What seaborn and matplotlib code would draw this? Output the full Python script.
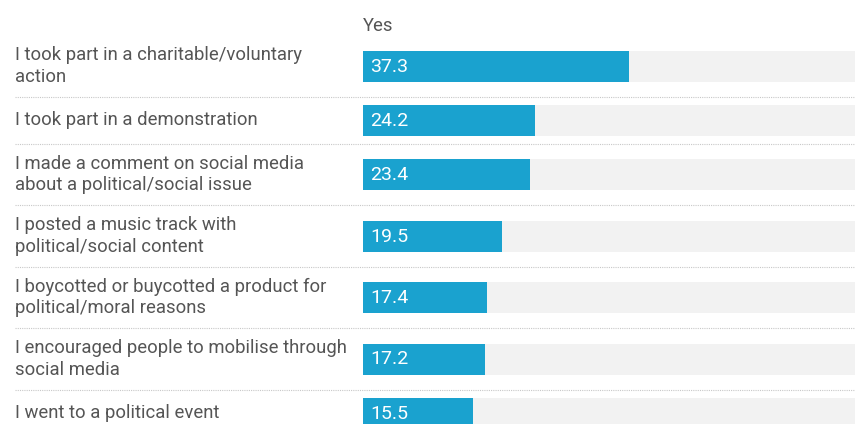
import numpy as np
import pandas as pd
import matplotlib
matplotlib.use("Agg")
import matplotlib.pyplot as plt
import seaborn as sns
from matplotlib.transforms import blended_transform_factory

# Survey answers: share of respondents answering "Yes"
categories = [
    "I took part in a charitable/voluntary\naction",
    "I took part in a demonstration",
    "I made a comment on social media\nabout a political/social issue",
    "I posted a music track with\npolitical/social content",
    "I boycotted or buycotted a product for\npolitical/moral reasons",
    "I encouraged people to mobilise through\nsocial media",
    "I went to a political event",
]
yes_values = [37.3, 24.2, 23.4, 19.5, 17.4, 17.2, 15.5]
column_header = "Yes"
scale_max = 100

W, H, DPI = 855, 424, 100
BAR_LEFT = 363          # px where the bar column starts
PX_PER_UNIT = 7.12      # horizontal scale of the bars

sns.set_theme(style="white")
plt.rcParams["font.family"] = ["Roboto", "DejaVu Sans"]

TEXT = "#555555"
BLUE = "#1aa2cf"
TRACK = "#f2f2f2"
RULE = "#c8c8c8"

# Row heights follow the number of lines in each label
line_counts = [c.count("\n") + 1 for c in categories]
row_h = np.array([61.5 if n > 1 else 47.0 for n in line_counts])
top = 35.25
edges = top + np.concatenate([[0.0], np.cumsum(row_h)])
centers = (edges[:-1] + edges[1:]) / 2

df = pd.DataFrame({
    "label": categories,
    "value": yes_values,
    "pos": centers,
    "full": [scale_max] * len(categories),
})

fig = plt.figure(figsize=(W / DPI, H / DPI), dpi=DPI)
fig.patch.set_facecolor("white")
ax = fig.add_axes([BAR_LEFT / W, 0, 1 - BAR_LEFT / W, 1])

bar_px = 31.0
width = bar_px / np.min(np.diff(centers))

sns.barplot(data=df, x="full", y="pos", orient="h", native_scale=True,
            color=TRACK, saturation=1, width=width, errorbar=None,
            linewidth=0, ax=ax)
sns.barplot(data=df, x="value", y="pos", orient="h", native_scale=True,
            color=BLUE, saturation=1, width=width, errorbar=None,
            linewidth=0, ax=ax)

ax.set_xlim(0, (W - BAR_LEFT) / PX_PER_UNIT)
ax.set_ylim(H, 0)
ax.axis("off")

trans = blended_transform_factory(fig.transFigure, ax.transData)

# Dotted separators between rows
for y in edges[1:-1]:
    ax.plot([15 / W, 1], [y, y], transform=trans, color=RULE,
            linestyle=(0, (1, 1)), linewidth=0.8, clip_on=False)

# Row labels
for lab, c in zip(df["label"], df["pos"]):
    ax.text(15 / W, c, lab, transform=trans, ha="left", va="center",
            fontsize=13.3, color=TEXT, linespacing=1.22)

# Value labels inside the bars
for v, c in zip(df["value"], df["pos"]):
    ax.annotate(f"{v:.1f}", xy=(0, c), xytext=(7, -0.5), textcoords="offset pixels",
                ha="left", va="center", fontsize=14, color="white")

# Column header
ax.annotate(column_header, xy=(0, edges[0]), xytext=(0, 9),
            textcoords="offset pixels", ha="left", va="center",
            fontsize=13.3, color=TEXT)

fig.savefig("out.png", dpi=DPI, facecolor="white")
